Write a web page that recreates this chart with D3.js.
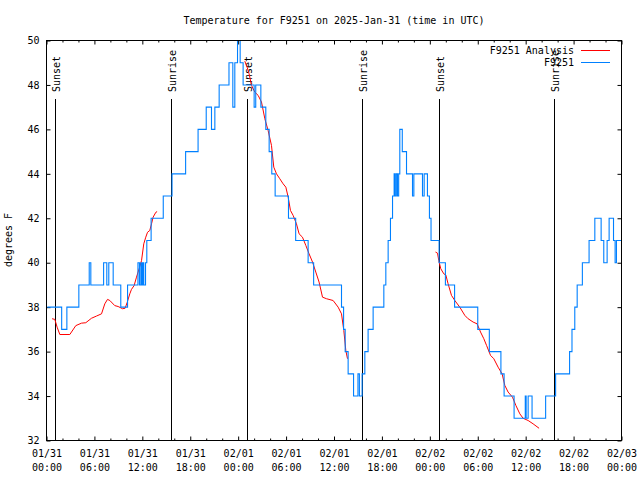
<!DOCTYPE html>
<html><head><meta charset="utf-8">
<script src="https://cdn.jsdelivr.net/npm/d3@7"></script>
<style>
body{margin:0;background:#fff;}
svg{display:block;background:#fff;}
text{font-family:"DejaVu Sans Mono",monospace;font-size:10px;fill:#000;}
</style></head><body>
<svg id="chart" width="640" height="480"></svg>
<script>
// ---- data (hours since 2025-01-31 00:00 UTC) ----
const tickHours = [0,6,12,18,24,30,36,42,48,54,60,66,72];
const tickDates = ["01/31","01/31","01/31","01/31","02/01","02/01","02/01","02/01","02/02","02/02","02/02","02/02","02/03"];
const tickTimes = ["00:00","06:00","12:00","18:00","00:00","06:00","12:00","18:00","00:00","06:00","12:00","18:00","00:00"];
const yTicks = [32,34,36,38,40,42,44,46,48,50];

const sunHours  = [1.08, 15.6, 25.12, 39.52, 49.16, 63.56];
const sunLabels = ["Sunset","Sunrise","Sunset","Sunrise","Sunset","Sunrise"];

const blueHours = [0.1,1.9,2.55,4.05,5.35,5.55,7.15,7.55,7.8,8.35,9.3,10.15,11.45,11.64,11.81,11.93,12.06,12.18,12.4,12.56,13.1,14.62,15.72,17.42,18.98,20.0,20.66,21.08,21.62,22.85,23.33,23.58,23.92,24.25,24.62,26.0,26.2,26.84,27.46,27.88,28.21,28.63,30.3,31.2,32.76,33.45,36.94,37.2,37.4,37.77,38.45,39.0,39.18,39.52,39.86,40.27,40.9,42.24,42.49,42.78,43.07,43.33,43.53,43.65,43.8,43.95,44.1,44.24,44.55,45.08,45.83,46.0,47.08,47.29,47.7,47.95,48.15,49.16,49.95,51.1,54.0,55.45,56.9,57.3,58.55,59.95,60.06,60.31,60.8,62.5,63.75,65.5,65.8,66.15,66.45,67.1,67.94,68.66,69.45,69.78,70.2,70.45,71.0,71.2,71.37,72];
const blueTemps = [38,37,38,39,40,39,40,39,40,39,38,39,40,39,40,39,40,39,40,41,42,43,44,45,46,47,46,47,48,49,47,49,50,49,48,47,48,47,46,45,44,43,42,41,40,39,38,37,36,35,34,35,34,35,36,37,38,39,40,41,42,43,44,43,44,43,44,46,45,44,43,44,43,44,43,42,41,40,39,38,37,36,35,34,33,34,33,34,33,34,35,36,37,38,39,40,41,42,41,40,41,42,41,40,41,41];

const redHours = [0.70,1.04,1.33,1.67,2.92,3.67,4.38,4.92,5.63,6.26,6.89,7.30,7.64,7.93,8.55,8.97,9.52,9.84,10.09,10.43,10.64,10.97,11.27,11.60,11.90,12.18,12.43,12.65,12.93,13.15,13.35,13.69,13.85,
  null,
  24.83,25.12,25.37,25.67,26.08,26.5,26.92,27.34,27.75,28.17,28.46,28.8,29.21,29.63,29.97,30.26,30.55,30.88,31.3,31.63,32.05,32.47,32.88,33.31,33.72,34.13,34.56,35.06,35.89,36.52,36.94,37.23,37.48,37.69,
  null,
  48.71,48.96,49.12,49.37,49.75,50.0,50.29,50.71,51.13,51.75,52.38,52.79,53.42,53.92,54.35,54.76,55.1,55.6,56.01,56.55,57.05,57.39,57.8,58.35,58.77,59.27,59.68,60.31,60.93,61.68];
const redTemps = [37.48,37.45,37.1,36.77,36.77,37.17,37.28,37.3,37.5,37.6,37.7,38.15,38.35,38.3,38.07,38.03,37.93,37.95,38.2,38.6,38.8,38.97,39.35,39.73,40.1,40.85,41.15,41.37,41.45,41.75,42.05,42.27,42.3,
  null,
  49.07,48.8,48.5,47.98,47.68,47.53,47.23,46.48,45.95,45.28,44.3,44.0,43.78,43.55,43.4,42.95,42.35,42.13,41.75,41.3,41.15,40.78,40.4,40.03,39.58,39.13,38.45,38.38,38.3,38.0,37.7,36.95,36.05,35.68,
  null,
  40.48,40.43,40.1,39.73,39.5,39.45,39.05,38.53,38.3,38.0,37.63,37.48,37.33,37.25,36.88,36.58,36.28,35.83,35.68,35.3,35.0,34.48,34.18,33.95,33.58,33.2,33.0,32.9,32.75,32.55];

const titleText = "Temperature for F9251 on 2025-Jan-31 (time in UTC)";
const yLabel = "degrees F";
const seriesNames = ["F9251 Analysis","F9251"];
const seriesColors = ["#ff0000","#0080ff"];

// ---- layout ----
const L = 46.5, R = 621.5, T = 40.5, B = 440.5;
const svg = d3.select("#chart");
const x = d3.scaleLinear().domain([0,72]).range([L,R]);
const y = d3.scaleLinear().domain([32,50]).range([B,T]);

svg.append("defs").append("clipPath").attr("id","clip")
  .append("rect").attr("x",L-0.5).attr("y",T-0.5).attr("width",R-L+1).attr("height",B-T+1);

// title
svg.append("text").attr("x",(L+R)/2).attr("y",23.5).attr("text-anchor","middle").text(titleText);

// y label
svg.append("text").attr("transform","translate(11.5,240) rotate(-90)").attr("text-anchor","middle").text(yLabel);

// minor tick positions every 2h
const minorHours = d3.range(0,73,2).filter(h => h % 6 !== 0);

function strip(g){ g.select(".domain").remove(); }

// bottom axis major
const gb = svg.append("g").attr("transform",`translate(0,${B})`)
  .call(d3.axisBottom(x).tickValues(tickHours).tickSizeInner(-4).tickSizeOuter(0).tickFormat((d,i)=>tickDates[i]))
  .call(strip);
gb.selectAll(".tick text").each(function(d,i){
  const t = d3.select(this);
  t.text(null).attr("y",16).attr("dy",null);
  t.append("tspan").attr("x",0).text(tickDates[i]);
  t.append("tspan").attr("x",0).attr("dy",14).text(tickTimes[i]);
});
svg.append("g").attr("transform",`translate(0,${B})`)
  .call(d3.axisBottom(x).tickValues(minorHours).tickSizeInner(-2).tickSizeOuter(0).tickFormat(""))
  .call(strip);
// top axis
svg.append("g").attr("transform",`translate(0,${T})`)
  .call(d3.axisTop(x).tickValues(tickHours).tickSizeInner(-4).tickSizeOuter(0).tickFormat(""))
  .call(strip);
svg.append("g").attr("transform",`translate(0,${T})`)
  .call(d3.axisTop(x).tickValues(minorHours).tickSizeInner(-2).tickSizeOuter(0).tickFormat(""))
  .call(strip);
// left axis
svg.append("g").attr("transform",`translate(${L},0)`)
  .call(d3.axisLeft(y).tickValues(yTicks).tickSizeInner(-4).tickSizeOuter(0).tickPadding(7).tickFormat(d3.format("d")))
  .call(strip);
// right axis
svg.append("g").attr("transform",`translate(${R},0)`)
  .call(d3.axisRight(y).tickValues(yTicks).tickSizeInner(-4).tickSizeOuter(0).tickFormat(""))
  .call(strip);

// sunrise / sunset lines
const sun = svg.append("g");
sunHours.forEach((h,i)=>{
  const lx = Math.round(x(h)-0.5)+0.5;
  sun.append("line").attr("x1",lx).attr("x2",lx).attr("y1",99).attr("y2",B)
    .attr("stroke","#000").attr("stroke-width",1).attr("shape-rendering","crispEdges");
  sun.append("text").attr("transform",`translate(${lx},92) rotate(-90)`)
    .attr("text-anchor","start").attr("dy",4.5).text(sunLabels[i]);
});

// series
const plot = svg.append("g").attr("clip-path","url(#clip)");
const blueData = blueHours.map((h,i)=>({h, t: blueTemps[i]}));
const redData = redHours.map((h,i)=>({h, t: redTemps[i]}));

plot.append("path").datum(redData)
  .attr("fill","none").attr("stroke",seriesColors[0]).attr("stroke-width",1)
  .attr("d", d3.line().defined(d=>d.h!==null && d.t!==null).x(d=>x(d.h)).y(d=>y(d.t)));

plot.append("path").datum(blueData)
  .attr("fill","none").attr("stroke",seriesColors[1]).attr("stroke-width",1.1)
  .attr("d", d3.line().curve(d3.curveStepAfter).x(d=>x(d.h)).y(d=>y(d.t)));

// frame
svg.append("rect").attr("x",L).attr("y",T).attr("width",R-L).attr("height",B-T)
  .attr("fill","none").attr("stroke","#000").attr("stroke-width",1).attr("shape-rendering","crispEdges");

// legend
const leg = svg.append("g");
seriesNames.forEach((n,i)=>{
  const ly = 50.5 + i*12;
  leg.append("text").attr("x",574).attr("y",ly+3.5).attr("text-anchor","end").text(n);
  leg.append("line").attr("x1",581).attr("x2",610).attr("y1",ly).attr("y2",ly)
    .attr("stroke",seriesColors[i]).attr("stroke-width",1);
});
</script>
</body></html>
